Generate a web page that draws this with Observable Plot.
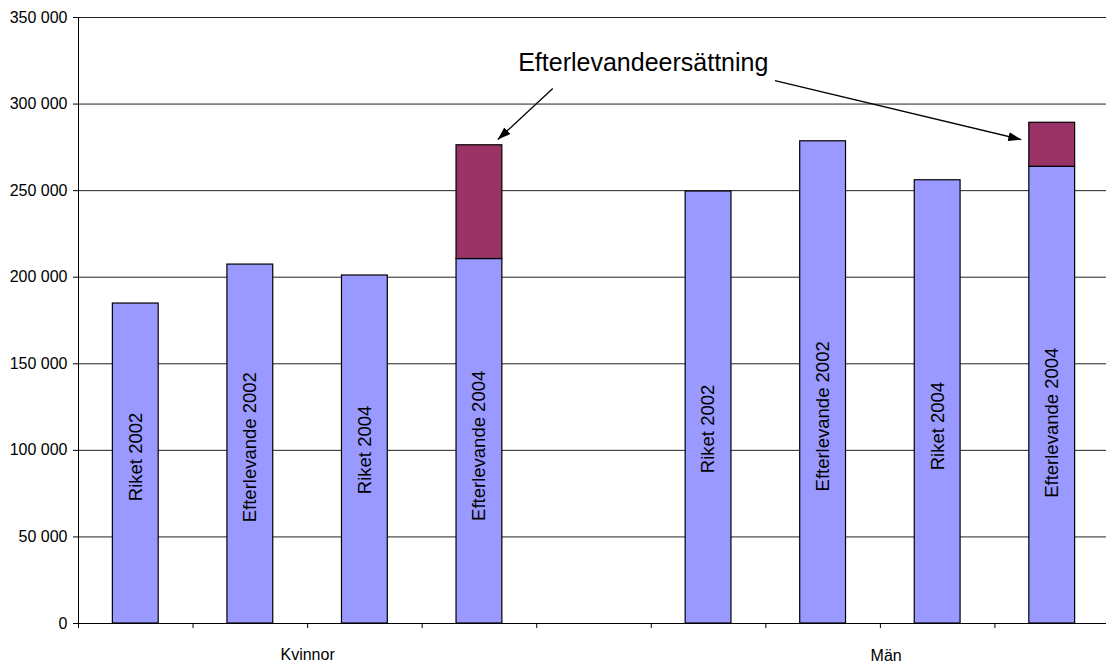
<!DOCTYPE html>
<html>
<head>
<meta charset="utf-8">
<script src="https://cdn.jsdelivr.net/npm/d3@7"></script>
<script src="https://cdn.jsdelivr.net/npm/@observablehq/plot@0.6"></script>
<style>
  html, body { margin: 0; padding: 0; background: white; }
  #chart { width: 1106px; height: 666px; }
</style>
</head>
<body>
<div id="chart"></div>
<script>
// Data
const groups = ["Kvinnor", "Män"];
const series = ["Riket 2002", "Efterlevande 2002", "Riket 2004", "Efterlevande 2004"];
const kvinnorBase = [184800, 207300, 201000, 210500];
const manBase = [249500, 278500, 256000, 263800];
const kvinnorEfterlevandeersattning = [0, 0, 0, 65700];
const manEfterlevandeersattning = [0, 0, 0, 25400];
const yTicks = [0, 50000, 100000, 150000, 200000, 250000, 300000, 350000];
const annotationLabel = "Efterlevandeersättning";

const bases = [kvinnorBase, manBase];
const extras = [kvinnorEfterlevandeersattning, manEfterlevandeersattning];
const slotsPerGroup = series.length + 1;

const rows = groups.flatMap((g, gi) => series.map((s, si) => ({
  group: g, series: s, pos: gi * slotsPerGroup + si,
  base: bases[gi][si], extra: extras[gi][si]
})));
const groupRows = groups.map((g, gi) => ({
  group: g, pos: gi * slotsPerGroup + (series.length - 1) / 2
}));
const nSlots = groups.length * slotsPerGroup - 1;
const boundaries = d3.range(nSlots + 1).map(i => i - 0.5);

const extraRows = rows.filter(d => d.extra > 0);
const textPos = {x: 4.43, y: 324000};
const arrows = [
  {x1: textPos.x - 0.79, y1: textPos.y - 15000, x2: extraRows[0].pos + 0.16, y2: extraRows[0].base + extraRows[0].extra + 3300},
  {x1: textPos.x + 1.15, y1: textPos.y - 10500, x2: extraRows[1].pos - 0.27, y2: extraRows[1].base + extraRows[1].extra - 9700}
];

const fmt = v => d3.format(",")(v).replace(/,/g, " ");

const filledArrow = (color) => {
  const ns = "http://www.w3.org/2000/svg";
  const m = document.createElementNS(ns, "marker");
  m.setAttribute("viewBox", "-13 -5 13 10");
  m.setAttribute("markerWidth", "13");
  m.setAttribute("markerHeight", "10");
  m.setAttribute("markerUnits", "userSpaceOnUse");
  m.setAttribute("orient", "auto");
  m.setAttribute("refX", "0");
  m.setAttribute("refY", "0");
  const p = document.createElementNS(ns, "path");
  p.setAttribute("d", "M-13,-4.5L0,0L-13,4.5Z");
  p.setAttribute("fill", color);
  p.setAttribute("stroke", "none");
  m.appendChild(p);
  return m;
};

const chart = Plot.plot({
  width: 1106,
  height: 666,
  marginTop: 17,
  marginBottom: 43,
  marginLeft: 78,
  marginRight: 0,
  style: {fontFamily: "'Liberation Sans', Arial, sans-serif", background: "white", color: "black"},
  x: {type: "linear", domain: [-0.5, nSlots - 0.5], range: [78, 1109], axis: null},
  y: {domain: [0, 350000], axis: null},
  marks: [
    Plot.gridY(yTicks, {stroke: "#222", strokeOpacity: 1, strokeWidth: 1}),
    Plot.rectY(rows, {x1: d => d.pos - 0.2, x2: d => d.pos + 0.2, y1: 0, y2: "base", fill: "#9999FF", stroke: "black", strokeWidth: 1.2}),
    Plot.rectY(extraRows, {x1: d => d.pos - 0.2, x2: d => d.pos + 0.2, y1: "base", y2: d => d.base + d.extra, fill: "#993366", stroke: "black", strokeWidth: 1.2}),
    Plot.text(rows, {x: "pos", y: d => d.base / 4 + 50000, text: "series", rotate: -90, fontSize: 18.5, fill: "black"}),
    Plot.ruleY([0], {stroke: "black"}),
    Plot.ruleX([-0.5], {y1: 0, y2: 350000, stroke: "black"}),
    Plot.axisY(yTicks, {tickSize: 5, tickPadding: 6, fontSize: 16, tickFormat: fmt, stroke: "black", fill: "black"}),
    Plot.axisX(boundaries, {tickSize: 5, tickFormat: () => "", stroke: "black"}),
    Plot.text(groupRows.slice(0, 1), {x: "pos", y: 0, dy: 31, text: "group", fontSize: 16, fill: "black"}),
    Plot.text(groupRows.slice(1), {x: d => d.pos + 0.05, y: 0, dy: 32, text: "group", fontSize: 16, fill: "black"}),
    Plot.text([annotationLabel], {x: textPos.x, y: textPos.y, text: d => d, fontSize: 25, fill: "black"}),
    Plot.link(arrows, {x1: "x1", y1: "y1", x2: "x2", y2: "y2", stroke: "black", strokeWidth: 1.3, markerEnd: filledArrow})
  ]
});
document.getElementById("chart").appendChild(chart);
</script>
</body>
</html>
